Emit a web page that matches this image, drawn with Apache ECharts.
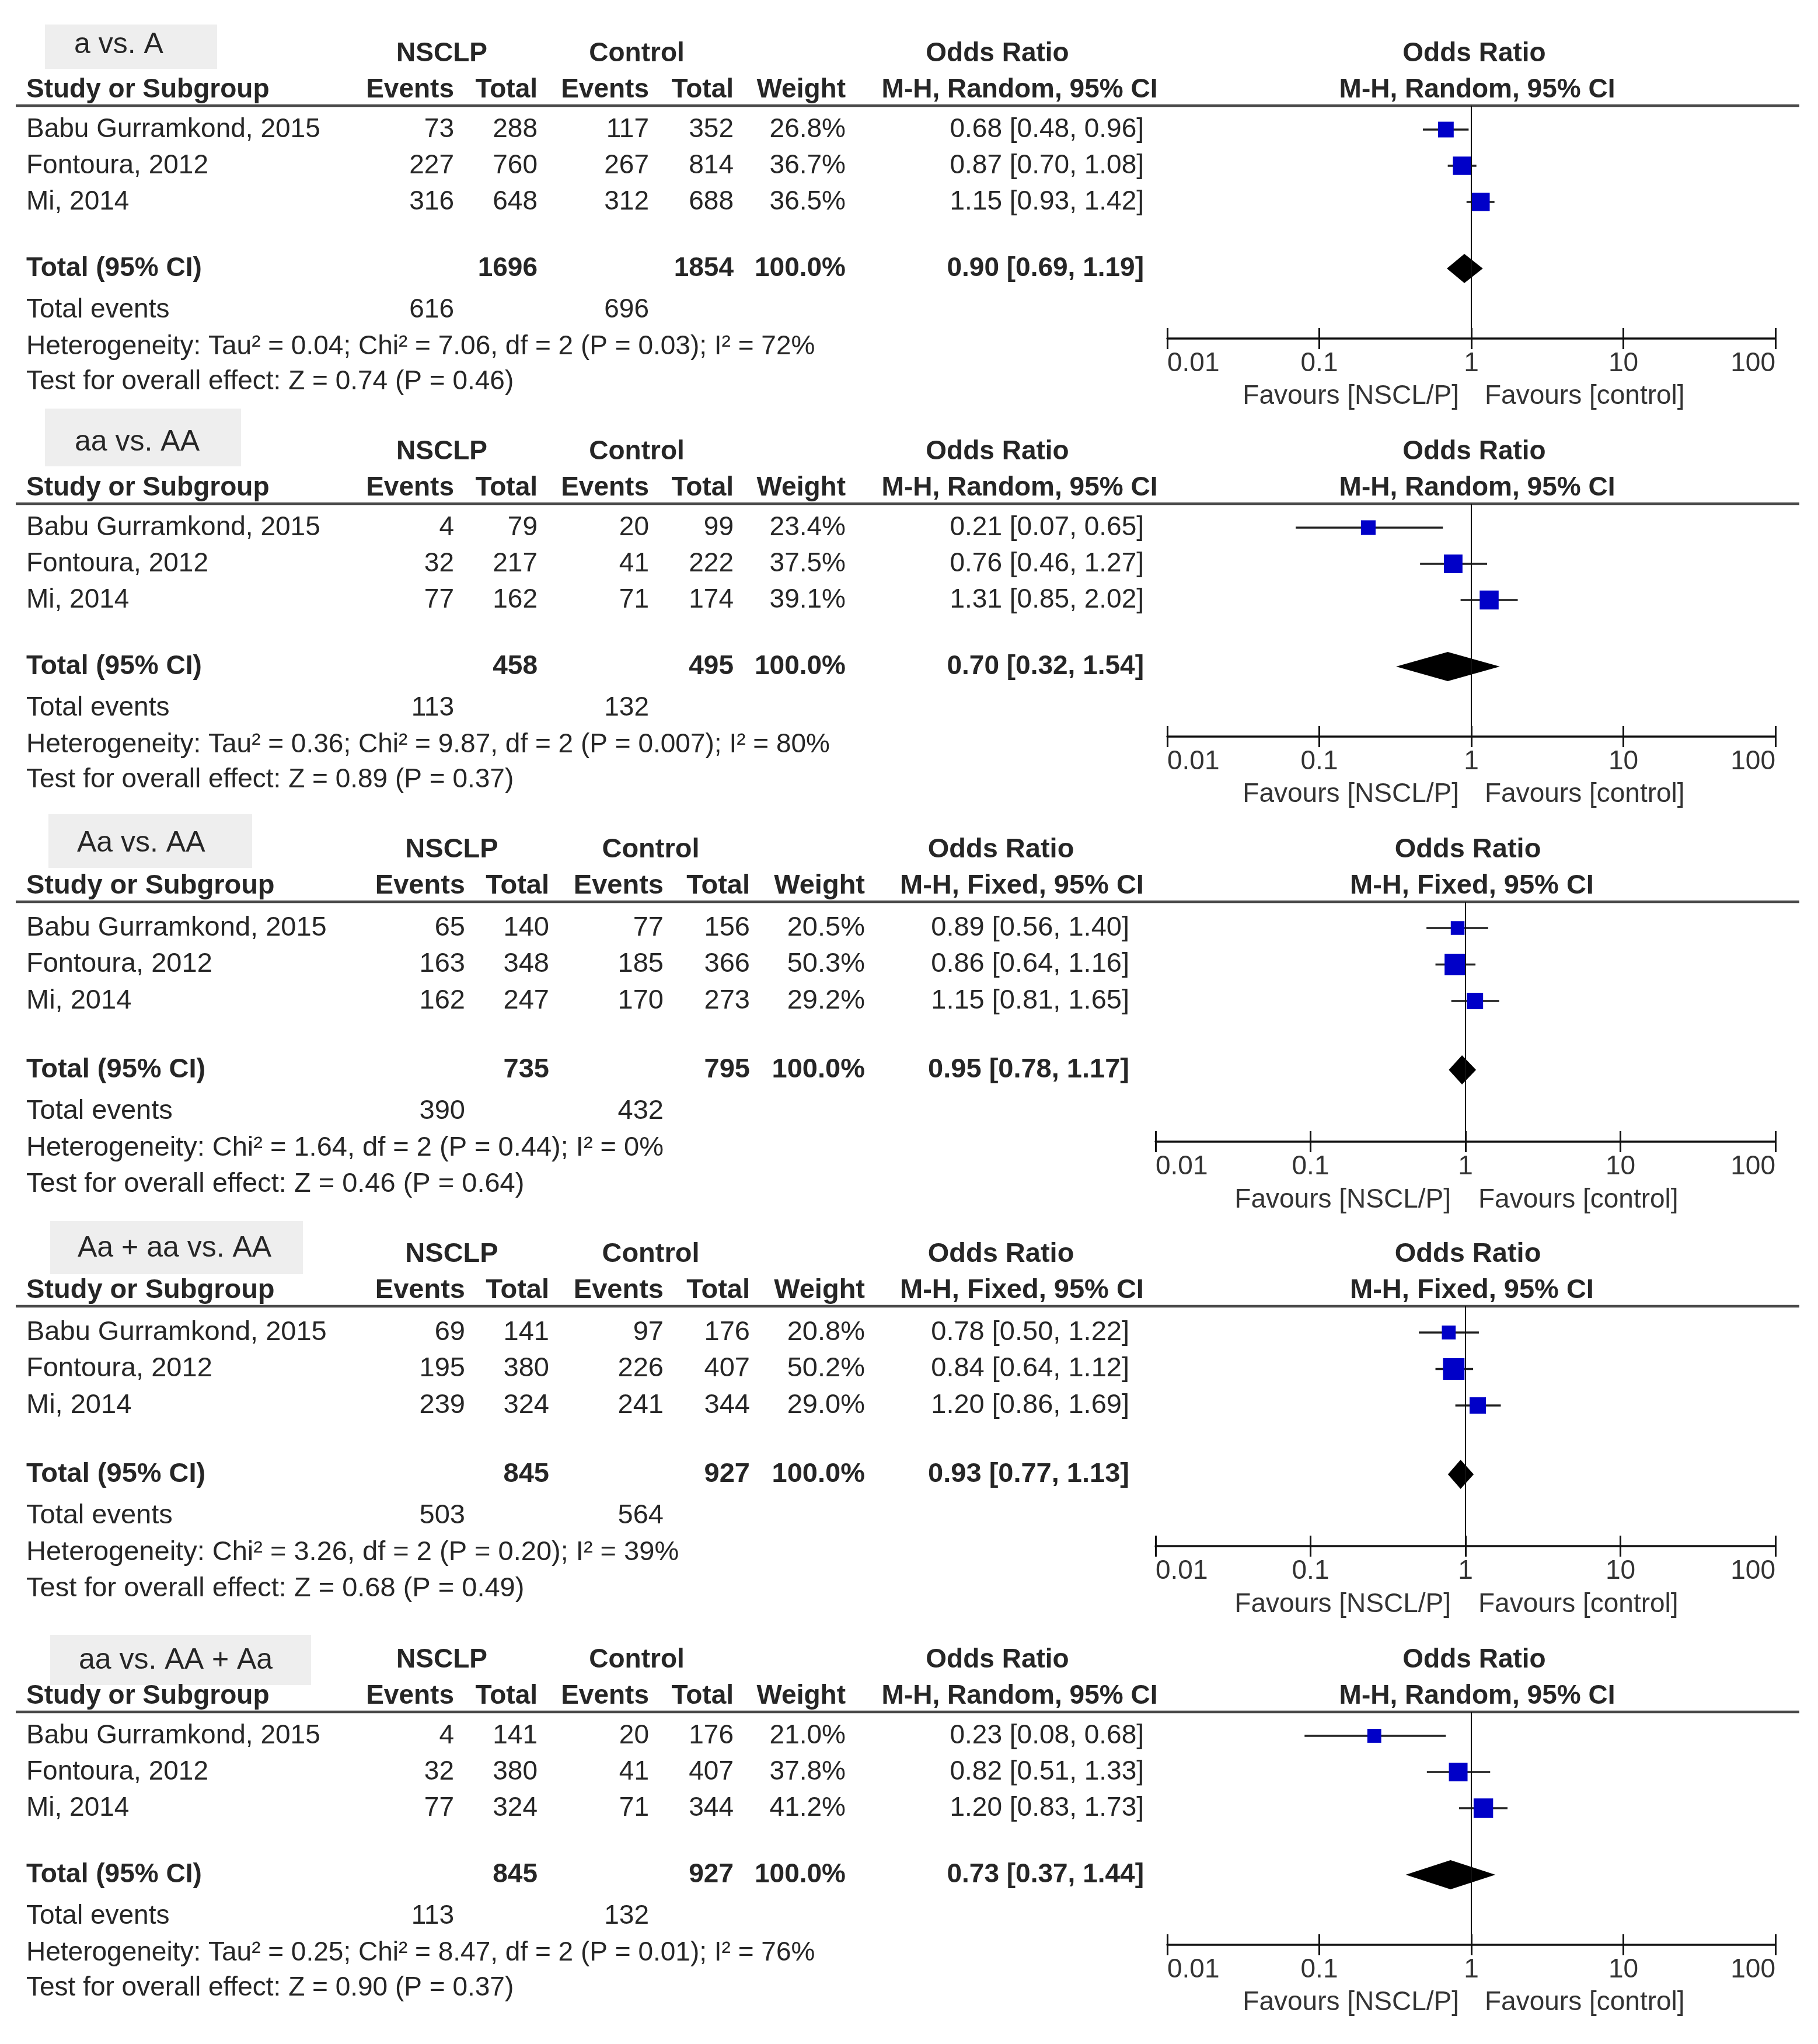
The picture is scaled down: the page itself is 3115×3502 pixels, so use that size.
<!DOCTYPE html>
<html>
<head>
<meta charset="utf-8">
<script src="https://cdn.jsdelivr.net/npm/echarts@6.0.0/dist/echarts.min.js"></script>
<style>
html,body{margin:0;padding:0;background:#fff;}
#chart{width:3115px;height:3502px;}
</style>
</head>
<body>
<div id="chart"></div>
<script>
// ---------------- DATA ----------------
const STUDIES = ['Babu Gurramkond, 2015', 'Fontoura, 2012', 'Mi, 2014'];
const PANEL_TITLES = ['a vs. A', 'aa vs. AA', 'Aa vs. AA', 'Aa + aa vs. AA', 'aa vs. AA + Aa'];
const METHODS = ['Random', 'Random', 'Fixed', 'Fixed', 'Random'];

const EV_NSCLP  = [[73, 227, 316], [4, 32, 77], [65, 163, 162], [69, 195, 239], [4, 32, 77]];
const TOT_NSCLP = [[288, 760, 648], [79, 217, 162], [140, 348, 247], [141, 380, 324], [141, 380, 324]];
const EV_CTRL   = [[117, 267, 312], [20, 41, 71], [77, 185, 170], [97, 226, 241], [20, 41, 71]];
const TOT_CTRL  = [[352, 814, 688], [99, 222, 174], [156, 366, 273], [176, 407, 344], [176, 407, 344]];
const WEIGHT    = [[26.8, 36.7, 36.5], [23.4, 37.5, 39.1], [20.5, 50.3, 29.2], [20.8, 50.2, 29.0], [21.0, 37.8, 41.2]];
const OR_VAL    = [[0.68, 0.87, 1.15], [0.21, 0.76, 1.31], [0.89, 0.86, 1.15], [0.78, 0.84, 1.20], [0.23, 0.82, 1.20]];
const CI_LO     = [[0.48, 0.70, 0.93], [0.07, 0.46, 0.85], [0.56, 0.64, 0.81], [0.50, 0.64, 0.86], [0.08, 0.51, 0.83]];
const CI_HI     = [[0.96, 1.08, 1.42], [0.65, 1.27, 2.02], [1.40, 1.16, 1.65], [1.22, 1.12, 1.69], [0.68, 1.33, 1.73]];

const TOTAL_N_NSCLP  = [1696, 458, 735, 845, 845];
const TOTAL_N_CTRL   = [1854, 495, 795, 927, 927];
const TOTAL_EV_NSCLP = [616, 113, 390, 503, 113];
const TOTAL_EV_CTRL  = [696, 132, 432, 564, 132];
const POOLED_OR = [0.90, 0.70, 0.95, 0.93, 0.73];
const POOLED_LO = [0.69, 0.32, 0.78, 0.77, 0.37];
const POOLED_HI = [1.19, 1.54, 1.17, 1.13, 1.44];

const HETEROGENEITY = [
  'Heterogeneity: Tau\u00b2 = 0.04; Chi\u00b2 = 7.06, df = 2 (P = 0.03); I\u00b2 = 72%',
  'Heterogeneity: Tau\u00b2 = 0.36; Chi\u00b2 = 9.87, df = 2 (P = 0.007); I\u00b2 = 80%',
  'Heterogeneity: Chi\u00b2 = 1.64, df = 2 (P = 0.44); I\u00b2 = 0%',
  'Heterogeneity: Chi\u00b2 = 3.26, df = 2 (P = 0.20); I\u00b2 = 39%',
  'Heterogeneity: Tau\u00b2 = 0.25; Chi\u00b2 = 8.47, df = 2 (P = 0.01); I\u00b2 = 76%'
];
const OVERALL = [
  'Test for overall effect: Z = 0.74 (P = 0.46)',
  'Test for overall effect: Z = 0.89 (P = 0.37)',
  'Test for overall effect: Z = 0.46 (P = 0.64)',
  'Test for overall effect: Z = 0.68 (P = 0.49)',
  'Test for overall effect: Z = 0.90 (P = 0.37)'
];
const TICK_LABELS = ['0.01', '0.1', '1', '10', '100'];
const FAVOURS = ['Favours [NSCL/P]', 'Favours [control]'];

// ---------------- LAYOUT ----------------
const FONT = '"Liberation Sans", Arial, sans-serif';
const TEXT_COLOR = '#262626';
const LAYOUT = {
  Random: {font: 46, study: 45, nsclpHdr: 757, ctrlHdr: 1091, orHdr: 1709, mhHdr: 1747,
    evR: 778, totR: 921, cevR: 1112, ctotR: 1257, wR: 1449, orR: 1960,
    fLeft: 2000, fRight: 3042, fOrHdr: 2526, fMhHdr: 2531, favL: -21, favR: 23,
    off: {h1: -89, h2: -27, r1: 41, rowH: 62, total: 279, totEv: 350, het: 413, test: 473, axis: 399, fav: 498}},
  Fixed: {font: 47, study: 45, nsclpHdr: 774, ctrlHdr: 1115, orHdr: 1715, mhHdr: 1751,
    evR: 797, totR: 941, cevR: 1137, ctotR: 1285, wR: 1482, orR: 1935,
    fLeft: 1980, fRight: 3042, fOrHdr: 2515, fMhHdr: 2522, favL: -25, favR: 22,
    off: {h1: -89, h2: -27, r1: 45, rowH: 62.5, total: 288, totEv: 359, het: 422, test: 484, axis: 411, fav: 511}}
};
const LINE_Y = [181, 863, 1545, 2238, 2933];
const BOXES = [
  {x: 77, y: 42, w: 295, h: 76, tx: 127, ty: 77},
  {x: 77, y: 700, w: 336, h: 99, tx: 128, ty: 758},
  {x: 83, y: 1395, w: 349, h: 92, tx: 132, ty: 1445},
  {x: 86, y: 2092, w: 433, h: 91, tx: 133, ty: 2139},
  {x: 86, y: 2801, w: 447, h: 86, tx: 135, ty: 2845}
];

function txt(text, x, y, size, opts) {
  opts = opts || {};
  const align = opts.align || 'left';
  return {
    type: 'text', silent: true, z: 10,
    style: {
      text: String(text), x: x, y: y,
      font: (opts.bold ? 'bold ' : '') + size + 'px ' + FONT,
      fill: opts.color || TEXT_COLOR,
      align: align, textAlign: align,
      verticalAlign: 'middle', textVerticalAlign: 'middle'
    }
  };
}

const graphics = [];
const grids = [], xAxes = [], yAxes = [], series = [];

for (let p = 0; p < 5; p++) {
  const L = LAYOUT[METHODS[p]];
  const o = L.off;
  const y0 = LINE_Y[p];
  const fs = L.font;
  const rowY = i => y0 + o.r1 + i * o.rowH;

  // title box
  const b = BOXES[p];
  graphics.push({type: 'rect', silent: true, z: 1, shape: {x: b.x, y: b.y, width: b.w, height: b.h}, style: {fill: '#eeeeee'}});
  graphics.push(txt(PANEL_TITLES[p], b.tx, b.ty, 50));

  // headers
  graphics.push(txt('NSCLP', L.nsclpHdr, y0 + o.h1, fs, {bold: true, align: 'center'}));
  graphics.push(txt('Control', L.ctrlHdr, y0 + o.h1, fs, {bold: true, align: 'center'}));
  graphics.push(txt('Odds Ratio', L.orHdr, y0 + o.h1, fs, {bold: true, align: 'center'}));
  graphics.push(txt('Odds Ratio', L.fOrHdr, y0 + o.h1, fs, {bold: true, align: 'center'}));
  const mh = 'M-H, ' + METHODS[p] + ', 95% CI';
  graphics.push(txt('Study or Subgroup', L.study, y0 + o.h2, fs, {bold: true}));
  graphics.push(txt('Events', L.evR, y0 + o.h2, fs, {bold: true, align: 'right'}));
  graphics.push(txt('Total', L.totR, y0 + o.h2, fs, {bold: true, align: 'right'}));
  graphics.push(txt('Events', L.cevR, y0 + o.h2, fs, {bold: true, align: 'right'}));
  graphics.push(txt('Total', L.ctotR, y0 + o.h2, fs, {bold: true, align: 'right'}));
  graphics.push(txt('Weight', L.wR, y0 + o.h2, fs, {bold: true, align: 'right'}));
  graphics.push(txt(mh, L.mhHdr, y0 + o.h2, fs, {bold: true, align: 'center'}));
  graphics.push(txt(mh, L.fMhHdr, y0 + o.h2, fs, {bold: true, align: 'center'}));

  // header rule
  graphics.push({type: 'line', silent: true, z: 5, shape: {x1: 27, y1: y0, x2: 3083, y2: y0}, style: {stroke: '#4a4a4a', lineWidth: 4.5}});

  // study rows
  STUDIES.forEach((s, i) => {
    const y = rowY(i);
    graphics.push(txt(s, L.study, y, fs));
    graphics.push(txt(EV_NSCLP[p][i], L.evR, y, fs, {align: 'right'}));
    graphics.push(txt(TOT_NSCLP[p][i], L.totR, y, fs, {align: 'right'}));
    graphics.push(txt(EV_CTRL[p][i], L.cevR, y, fs, {align: 'right'}));
    graphics.push(txt(TOT_CTRL[p][i], L.ctotR, y, fs, {align: 'right'}));
    graphics.push(txt(WEIGHT[p][i].toFixed(1) + '%', L.wR, y, fs, {align: 'right'}));
    graphics.push(txt(OR_VAL[p][i].toFixed(2) + ' [' + CI_LO[p][i].toFixed(2) + ', ' + CI_HI[p][i].toFixed(2) + ']', L.orR, y, fs, {align: 'right'}));
  });

  // total row
  const ty = y0 + o.total;
  graphics.push(txt('Total (95% CI)', L.study, ty, fs, {bold: true}));
  graphics.push(txt(TOTAL_N_NSCLP[p], L.totR, ty, fs, {bold: true, align: 'right'}));
  graphics.push(txt(TOTAL_N_CTRL[p], L.ctotR, ty, fs, {bold: true, align: 'right'}));
  graphics.push(txt('100.0%', L.wR, ty, fs, {bold: true, align: 'right'}));
  graphics.push(txt(POOLED_OR[p].toFixed(2) + ' [' + POOLED_LO[p].toFixed(2) + ', ' + POOLED_HI[p].toFixed(2) + ']', L.orR, ty, fs, {bold: true, align: 'right'}));

  // total events, heterogeneity, overall
  const ey = y0 + o.totEv;
  graphics.push(txt('Total events', L.study, ey, fs));
  graphics.push(txt(TOTAL_EV_NSCLP[p], L.evR, ey, fs, {align: 'right'}));
  graphics.push(txt(TOTAL_EV_CTRL[p], L.cevR, ey, fs, {align: 'right'}));
  graphics.push(txt(HETEROGENEITY[p], L.study, y0 + o.het, fs));
  graphics.push(txt(OVERALL[p], L.study, y0 + o.test, fs));

  // favours labels
  const xOne = L.fLeft + (L.fRight - L.fLeft) / 2;
  graphics.push(txt(FAVOURS[0], xOne + L.favL, y0 + o.fav, 46, {align: 'right', color: '#333'}));
  graphics.push(txt(FAVOURS[1], xOne + L.favR, y0 + o.fav, 46, {align: 'left', color: '#333'}));

  // forest grid
  const yMin = 1 - o.r1 / o.rowH;
  const yMax = 1 + (o.axis - o.r1) / o.rowH;
  const totalSlot = 1 + (o.total - o.r1) / o.rowH;

  grids.push({left: L.fLeft, top: y0, width: L.fRight - L.fLeft, height: o.axis, containLabel: false});
  const axisBase = {gridIndex: p, type: 'log', logBase: 10, min: 0.01, max: 100, position: 'bottom', splitLine: {show: false}, minorTick: {show: false}};
  xAxes.push(Object.assign({}, axisBase, {
    axisLine: {show: true, lineStyle: {color: '#111', width: 3.5}},
    axisTick: {show: true, inside: false, length: 18, lineStyle: {color: '#111', width: 3}},
    axisLabel: {show: true, margin: 20, fontSize: 46, fontFamily: FONT, color: '#333',
      showMinLabel: true, showMaxLabel: true, alignMinLabel: 'left', alignMaxLabel: 'right',
      formatter: v => TICK_LABELS[Math.round(Math.log10(v)) + 2]}
  }));
  xAxes.push(Object.assign({}, axisBase, {
    axisLine: {show: false},
    axisTick: {show: true, inside: true, length: 18, lineStyle: {color: '#111', width: 3}},
    axisLabel: {show: false}
  }));
  yAxes.push({gridIndex: p, type: 'value', inverse: true, min: yMin, max: yMax, show: false, splitLine: {show: false}});

  const xi = 2 * p;
  // CI lines
  series.push({
    type: 'custom', xAxisIndex: xi, yAxisIndex: p, z: 2, silent: true,
    encode: {x: [0, 1], y: 2},
    data: STUDIES.map((s, i) => [CI_LO[p][i], CI_HI[p][i], i + 1]),
    renderItem: (params, api) => {
      const a = api.coord([api.value(0), api.value(2)]);
      const c = api.coord([api.value(1), api.value(2)]);
      return {type: 'line', shape: {x1: a[0], y1: a[1], x2: c[0], y2: c[1]}, style: {stroke: '#222', lineWidth: 3.5}};
    }
  });
  // squares (area ~ weight) + line of no effect
  series.push({
    type: 'scatter', xAxisIndex: xi, yAxisIndex: p, z: 4, silent: true,
    symbol: 'rect',
    symbolSize: v => 5.2 * Math.sqrt(v[2]),
    itemStyle: {color: '#0000c8', opacity: 1},
    data: STUDIES.map((s, i) => [OR_VAL[p][i], i + 1, WEIGHT[p][i]]),
    markLine: {silent: true, symbol: 'none', animation: false, label: {show: false},
      lineStyle: {color: '#111', width: 2, type: 'solid'}, data: [{xAxis: 1}]}
  });
  // pooled diamond
  series.push({
    type: 'custom', xAxisIndex: xi, yAxisIndex: p, z: 4, silent: true,
    encode: {x: [0, 1, 2], y: 3},
    data: [[POOLED_LO[p], POOLED_HI[p], POOLED_OR[p], totalSlot]],
    renderItem: (params, api) => {
      const l = api.coord([api.value(0), api.value(3)]);
      const r = api.coord([api.value(1), api.value(3)]);
      const c = api.coord([api.value(2), api.value(3)]);
      const h = 25;
      return {type: 'polygon', shape: {points: [[l[0], c[1]], [c[0], c[1] - h], [r[0], c[1]], [c[0], c[1] + h]]}, style: {fill: '#000'}};
    }
  });
}

const chart = echarts.init(document.getElementById('chart'), null, {renderer: 'canvas'});
chart.setOption({
  backgroundColor: '#ffffff',
  animation: false,
  grid: grids,
  xAxis: xAxes,
  yAxis: yAxes,
  series: series,
  graphic: {elements: graphics}
});
</script>
</body>
</html>
